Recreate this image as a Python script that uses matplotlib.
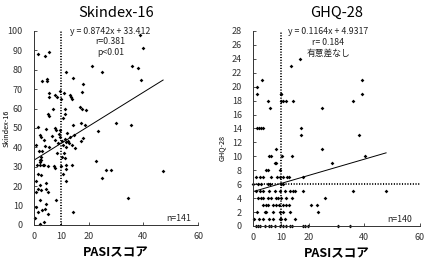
import matplotlib
matplotlib.use("Agg")
import matplotlib.pyplot as plt

plt.rcParams["font.family"] = ["Noto Sans CJK JP", "DejaVu Sans"]

# ----------------------------------------------------------------
# DATA
# ----------------------------------------------------------------
X_TICKS = [0, 10, 20, 40, 60]
SKIN_Y_TICKS = list(range(0, 101, 10))
GHQ_Y_TICKS = list(range(0, 29, 2))

# Skindex-16 vs PASI
skin_pasi = [1.3, 4.0, 5.6, 3.0, 4.6, 4.6, 5.6, 5.6, 7.7, 8.5, 9.5, 9.8, 7.1, 5.2, 5.4,
             11.6, 11.1, 11.3, 10.7, 11.3, 13.2, 13.6, 13.8, 14.4, 18.0, 17.4, 16.8, 17.4,
             19.0, 14.2, 17.2, 18.7, 21.1, 24.8, 29.9, 35.4, 23.3, 38.8, 40.0, 35.8, 37.9,
             39.0, 1.6, 4.3, 7.7, 8.1, 9.5,
             2.2, 2.4, 7.7, 9.5, 11.3, 11.7, 13.2, 13.8, 14.6, 18.0, 17.1, 15.0, 11.7, 10.5,
             0.7, 1.9, 2.9, 4.0, 5.6, 8.5, 10.1, 11.3, 2.5, 2.0, 2.4, 2.2, 3.3, 2.2, 3.6,
             5.2, 7.3, 7.7, 9.9, 11.7, 11.7, 13.8, 10.7, 1.3, 2.5, 0.7, 2.2, 4.3, 0.7,
             1.3, 2.5, 4.3, 5.2, 11.5, 2.2, 4.3, 7.9, 0.7, 1.3, 3.0, 4.0, 5.2, 0.3,
             2.2, 3.6, 14.4, 22.7, 24.8, 26.2, 28.2, 34.3, 47.3,
             9.0, 10.3, 12.5, 12.0, 8.8, 6.5, 3.8, 1.0, 12.8, 10.8]
skin_score = [88, 87, 89, 74, 75, 74, 68, 66, 67, 66, 69, 65, 60, 57, 56,
              79, 68, 60, 55, 57, 67, 66, 65, 75.6, 72.7, 68.7, 61, 60,
              59, 51.5, 52.7, 51.5, 82, 78.7, 52.7, 51.5, 48.5, 98, 91.4, 82, 80.8,
              74.7, 50.7, 49.3, 49.8, 49, 49,
              46.5, 45.3, 44, 45.4, 44.5, 42.8, 45.4, 41, 46.2, 44.8, 43, 39.7, 40, 41,
              41, 38, 38, 40.5, 40, 37, 35, 34.6, 35, 33.7, 33.7, 32.6, 30.8, 30.8, 30.8,
              30.3, 30.3, 29.4, 30.5, 30.8, 28.9, 30.8, 26.5, 26.5, 25.6, 22.7, 20.6, 21.5, 17,
              18.7, 17.9, 18.7, 17, 22.7, 12.7, 11, 12.7, 9.3, 6.7, 7.6, 8.0, 5.8, 3.6,
              0.5, 1.5, 6.7, 33, 24.2, 28.5, 28.5, 13.9, 27.6,
              47, 43, 43.5, 47.5, 42, 46, 44, 31, 42, 37]

# GHQ-28 vs PASI
ghq_pasi = [1.5, 1.5, 3.2, 5.4, 6.0, 1.5, 2.2, 2.9, 3.5, 9.9, 10.1, 10.0, 10.6, 12.0,
            14.4, 13.5, 17.0, 17.3, 24.9, 36.0, 39.2, 39.2,
            17.4, 38.0, 8.4, 24.9, 5.9, 6.3, 10.4, 13.9, 40.1, 7.9, 8.3, 28.5,
            4.8, 5.3, 9.8,
            1.2, 2.4, 3.4, 6.6, 8.7, 9.6, 10.8, 12.2, 13.0, 17.9,
            0.0, 1.8, 2.8, 5.4, 6.2, 10.0, 10.8,
            1.0, 2.4, 3.6, 5.8, 7.8, 9.6, 11.4, 13.2, 14.2, 15.0, 18.0, 36.0, 47.7,
            1.8, 3.0, 3.6, 5.4, 6.6, 8.4, 9.0, 10.2, 11.8, 14.0, 25.9,
            3.6, 4.6, 5.4, 7.0, 8.4, 9.2, 10.8, 12.0, 12.8, 21.0, 22.8,
            1.6, 4.2, 4.8, 7.2, 9.6, 10.8, 13.4, 23.3,
            0.4, 2.0, 3.6, 5.8, 7.2, 9.6, 10.2, 11.4, 15.2,
            1.0, 1.8, 2.4, 4.4, 5.8, 6.6, 8.0, 9.6, 10.8, 12.0, 13.4, 14.0, 17.8, 18.6,
            19.8, 30.4, 35.0]
ghq_score = [20, 19, 21, 18, 17, 14, 14, 14, 14, 19, 19, 18, 18, 18,
             18, 23, 24, 14, 17, 18, 21, 19,
             13, 13, 11, 11, 10, 10, 10, 10, 10, 9, 9, 9,
             8, 8, 8,
             7, 7, 7, 7, 7, 7, 7, 7, 7, 7,
             6, 6, 6, 6, 6, 6, 6,
             5, 5, 5, 5, 5, 5, 5, 5, 5, 5, 5, 5, 5,
             4, 4, 4, 4, 4, 4, 4, 4, 4, 4, 4,
             3, 3, 3, 3, 3, 3, 3, 3, 3, 3, 3,
             2, 2, 2, 2, 2, 2, 2, 2,
             1, 1, 1, 1, 1, 1, 1, 1, 1,
             0, 0, 0, 0, 0, 0, 0, 0, 0, 0, 0, 0, 0, 0,
             0, 0, 0]

SKIN_FIT = (0.8742, 33.412)
GHQ_FIT = (0.1164, 4.9317)
FIT_XMAX = [47.2, 47.8]


# ----------------------------------------------------------------
# PLOT
# ----------------------------------------------------------------
def style_axes(ax, yticks, ymax):
    ax.set_xlim(0, 60)
    ax.set_ylim(0, ymax)
    ax.set_xticks(X_TICKS)
    ax.set_yticks(yticks)
    for s in ["top", "right"]:
        ax.spines[s].set_visible(False)
    for s in ["left", "bottom"]:
        ax.spines[s].set_linewidth(0.7)
        ax.spines[s].set_color("#333333")
    ax.tick_params(direction="in", length=2.5, width=0.6, labelsize=6.5,
                   colors="#333333")
    ax.tick_params(axis="y", pad=8)
    ax.tick_params(axis="x", pad=5)
    ax.set_xlabel("PASIスコア", fontsize=9, fontweight="bold", labelpad=4)


fig = plt.figure(figsize=(4.26, 2.64), dpi=100)
ax1 = fig.add_axes([0.080, 0.148, 0.385, 0.735])
ax2 = fig.add_axes([0.594, 0.144, 0.392, 0.739])

# --- Skindex-16
style_axes(ax1, SKIN_Y_TICKS, 100)
ax1.plot(skin_pasi, skin_score, "D", color="black", ms=1.9, mew=0, clip_on=False)
ax1.plot([10, 10], [0, 100], color="black", lw=1.3, ls=(0, (0.6, 0.9)))
a, b = SKIN_FIT
ax1.plot([0, FIT_XMAX[0]], [b, a * FIT_XMAX[0] + b], color="black", lw=0.7)
ax1.text(28, 94.3, "y = 0.8742x + 33.412\nr=0.381\np<0.01", ha="center", va="center",
         fontsize=6.3, linespacing=1.25, color="#222222")
ax1.text(57.5, 0.8, "n=141", ha="right", va="bottom", fontsize=6.3, color="#222222")
ax1.set_ylabel("Skindex-16", fontsize=5.2)
ax1.yaxis.set_label_coords(-0.14, 0.5)
ax1.set_title("Skindex-16", fontsize=10.5, pad=10)

# --- GHQ-28
style_axes(ax2, GHQ_Y_TICKS, 28)
ax2.plot(ghq_pasi, ghq_score, "D", color="black", ms=1.9, mew=0, clip_on=False)
ax2.plot([10, 10], [0, 28], color="black", lw=1.3, ls=(0, (0.6, 0.9)))
ax2.plot([0, 60], [6, 6], color="black", lw=1.3, ls=(0, (0.6, 0.9)))
a, b = GHQ_FIT
ax2.plot([0, FIT_XMAX[1]], [b, a * FIT_XMAX[1] + b], color="black", lw=0.7)
ax2.text(27, 26.4, "y = 0.1164x + 4.9317\nr= 0.184\n有意差なし", ha="center", va="center",
         fontsize=6.3, linespacing=1.25, color="#222222")
ax2.text(57.2, 0.3, "n=140", ha="right", va="bottom", fontsize=6.3, color="#222222")
ax2.set_ylabel("GHQ-28", fontsize=5.2)
ax2.yaxis.set_label_coords(-0.16, 0.4)
ax2.set_title("GHQ-28", fontsize=10.5, pad=10)

fig.savefig("out.png", dpi=100)
